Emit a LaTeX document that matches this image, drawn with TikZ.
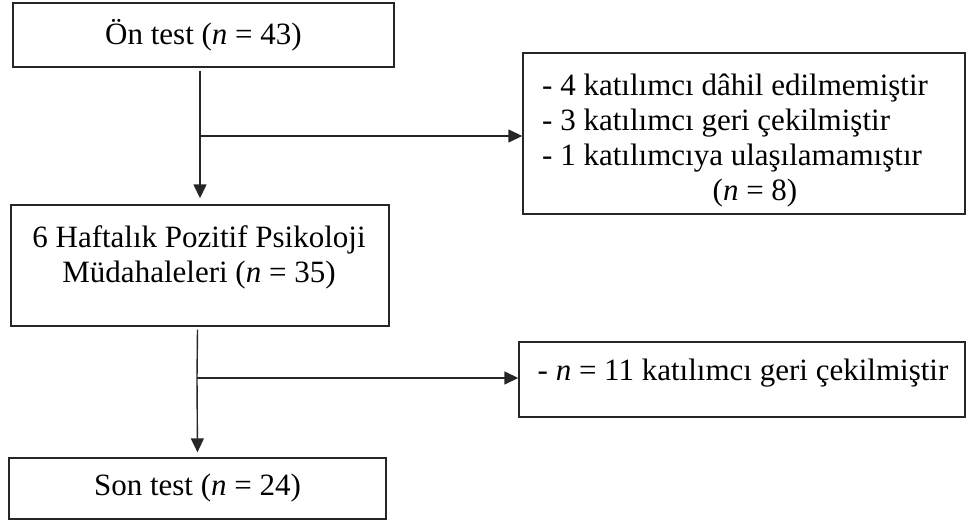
\documentclass[tikz,border=0pt]{standalone}
\usepackage{fontspec}
\setmainfont{Liberation Serif}
\usetikzlibrary{arrows.meta}
\begin{document}
\begin{tikzpicture}[x=1pt,y=-1pt,
  box/.style={draw=black!85, line width=1.4pt, inner sep=0pt},
  txt/.style={inner sep=0pt, font=\fontsize{31}{35}\selectfont},
  arr/.style={line width=1.4pt, draw=black!85, -{Triangle[length=14pt,width=13pt]}}]
\useasboundingbox (0,0) rectangle (973,522);
% boxes
\node[box, minimum width=381pt, minimum height=64pt] (b1) at (203.5,35) {};
\node[box, minimum width=442pt, minimum height=161pt] (b2) at (744,133.5) {};
\node[box, minimum width=378pt, minimum height=121pt] (b3) at (200,265.5) {};
\node[box, minimum width=446pt, minimum height=75pt] (b4) at (742,379.5) {};
\node[box, minimum width=377pt, minimum height=61pt] (b5) at (197.5,488.5) {};
% texts
\node[txt] (t1) at (b1.center) {Ön test (\textit{n} = 43)};
\node[txt, align=left, anchor=west] (t2) at (542,123) {- 4 katılımcı dâhil edilmemiştir\\- 3 katılımcı geri çekilmiştir\\- 1 katılımcıya ulaşılamamıştır};
\node[txt] (t2b) at (755,193) {(\textit{n} = 8)};
\node[txt, align=center] (t3) at (199,257) {6 Haftalık Pozitif Psikoloji\\Müdahaleleri (\textit{n} = 35)};
\node[txt] (t4) at (743,373) {- \textit{n} = 11 katılımcı geri çekilmiştir};
\node[txt] (t5) at (b5.center) {Son test (\textit{n} = 24)};
% connectors
\coordinate (j1) at (200,136);
\coordinate (j2) at (197,378);
\draw[line width=1.4pt, draw=black!85] (b1.south -| b3.north) ++(0,3) -- (j1);
\draw[arr, shorten >=6pt] (j1) -- (b3.north);
\draw[arr] (j1) -- (j1 -| b2.west);
\draw[line width=1.4pt, draw=black!85] (b3.south -| b5.north) ++(0,3) -- (j2);
\draw[arr, shorten >=5pt] (j2) -- (b5.north);
\draw[arr] (j2) -- (j2 -| b4.west);
\end{tikzpicture}
\end{document}
